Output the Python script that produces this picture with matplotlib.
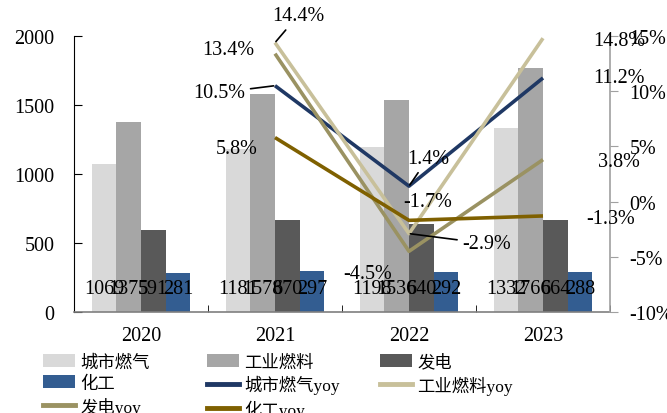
import matplotlib
matplotlib.use("Agg")
import matplotlib.pyplot as plt
from matplotlib.patches import Patch
from matplotlib.lines import Line2D
import numpy as np

plt.rcParams['font.family'] = ['Liberation Serif', 'Noto Sans CJK SC']

years = ["2020", "2021", "2022", "2023"]
bar_names = ["城市燃气", "工业燃料", "发电", "化工"]
city_gas = [1069, 1181, 1198, 1332]
industrial = [1375, 1578, 1536, 1766]
power = [591, 670, 640, 664]
chemical = [281, 297, 292, 288]

line_names = ["城市燃气yoy", "工业燃料yoy", "发电yoy", "化工yoy"]
line_years = ["2021", "2022", "2023"]
city_gas_yoy = [10.5, 1.4, 11.2]
industrial_yoy = [14.4, -2.9, 14.8]
power_yoy = [13.4, -4.5, 3.8]
chemical_yoy = [5.8, -1.7, -1.3]

bar_colors = ["#d9d9d9", "#a6a6a6", "#595959", "#335d91"]
line_colors = ["#1f3864", "#c8c09a", "#9a9262", "#7f6000"]

fig = plt.figure(figsize=(6.67, 4.14), dpi=100)
ax = fig.add_axes([74 / 667, 1 - 313 / 414, (610 - 74) / 667, (313 - 37) / 414])

x = np.arange(len(years))
w = 0.183
bar_series = [city_gas, industrial, power, chemical]
for i, (vals, col, name) in enumerate(zip(bar_series, bar_colors, bar_names)):
    xs = x + (i - 1.5) * w
    ax.bar(xs, vals, width=w, color=col, label=name, zorder=2)
    for xi, v in zip(xs, vals):
        ax.annotate(f"{v}", xy=(xi, 0), xytext=(0, 23), textcoords="offset pixels",
                    ha="center", va="center", fontsize=14.5, color="black", zorder=5)

ax.set_xlim(-0.5, 3.5)
ax.set_ylim(0, 2000)
ax.set_yticks([0, 500, 1000, 1500, 2000])
ax.set_xticks(x)
ax.set_xticklabels(years)
ax.set_xticks([0.5, 1.5, 2.5, 3.5], minor=True)
ax.tick_params(axis="x", which="major", length=0, pad=10, labelsize=14.5)
ax.tick_params(axis="x", which="minor", length=5, direction="in", color="black")
ax.tick_params(axis="y", direction="in", length=6, pad=14, labelsize=14.5)
ax.spines["top"].set_visible(False)
ax.spines["right"].set_visible(False)
ax.spines["left"].set_color("black")
ax.spines["bottom"].set_color("#7f7f7f")
ax.spines["bottom"].set_linewidth(1.2)

ax2 = ax.twinx()
ax2.set_ylim(-10, 15)
ax2.set_yticks([-10, -5, 0, 5, 10, 15])
ax2.set_yticklabels([f"{t}%" for t in [-10, -5, 0, 5, 10, 15]])
ax2.tick_params(axis="y", direction="out", length=6, pad=8, labelsize=14.5, color="#a0a0a0")
for s in ["top", "left", "bottom"]:
    ax2.spines[s].set_visible(False)
ax2.spines["right"].set_color("#a0a0a0")
ax2.spines["right"].set_linewidth(1.2)

lx = np.array([years.index(y) for y in line_years])
line_series = [city_gas_yoy, industrial_yoy, power_yoy, chemical_yoy]
for vals, col, name in zip(line_series, line_colors, line_names):
    ax2.plot(lx, vals, color=col, lw=2.6, label=name, zorder=3, solid_capstyle="butt")

# value labels for growth rates: (value, x index, offset px, leader line)
labels = [
    (industrial_yoy[0], 0, (23, 27), True),
    (power_yoy[0], 0, (-47, 4), False),
    (city_gas_yoy[0], 0, (-56, -7), True),
    (chemical_yoy[0], 0, (-38, -11), False),
    (city_gas_yoy[1], 1, (19, 28), True),
    (chemical_yoy[1], 1, (19, 19), False),
    (industrial_yoy[1], 1, (78, -10), True),
    (power_yoy[1], 1, (-41, -22), False),
    (industrial_yoy[2], 2, (76, -2), False),
    (city_gas_yoy[2], 2, (76, 0), False),
    (power_yoy[2], 2, (76, -2), False),
    (chemical_yoy[2], 2, (68, -3), False),
]
for v, xi, off, leader in labels:
    kw = {}
    if leader:
        kw["arrowprops"] = dict(arrowstyle="-", color="black", lw=1.2, shrinkA=2, shrinkB=1)
    ax2.annotate(f"{v}%", xy=(lx[xi], v), xytext=off, textcoords="offset pixels",
                 ha="center", va="center", fontsize=14.5, color="black", zorder=6,
                 annotation_clip=False, **kw)

# legend laid out in three columns beneath the axes
handles = {n: Patch(facecolor=c) for n, c in zip(bar_names, bar_colors)}
handles.update({n: Line2D([], [], color=c, lw=3.5) for n, c in zip(line_names, line_colors)})
columns = [
    (43, ["城市燃气", "化工", "发电yoy"]),
    (207, ["工业燃料", "城市燃气yoy", "化工yoy"]),
    (380, ["发电", "工业燃料yoy"]),
]
for xpix, names in columns:
    leg = fig.legend([handles[n] for n in names], names, loc="upper left",
                     bbox_to_anchor=(xpix / 667, 1 - 355 / 414), frameon=False,
                     fontsize=12.5, handlelength=1.85, handleheight=0.75,
                     handletextpad=0.3, labelspacing=0.28, borderaxespad=0, borderpad=0)

fig.savefig("out.png", dpi=100)
